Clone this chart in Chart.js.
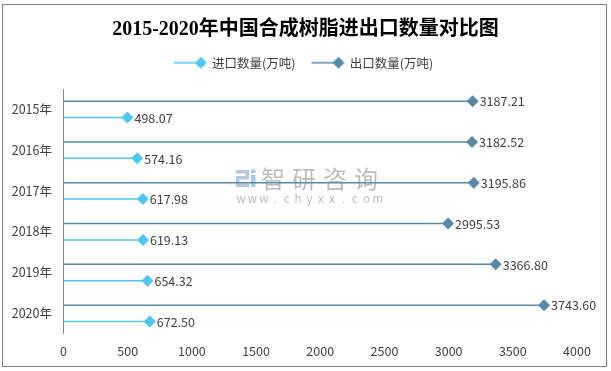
<!DOCTYPE html>
<html>
<head>
<meta charset="utf-8">
<script src="https://cdn.jsdelivr.net/npm/chart.js@4/dist/chart.umd.min.js"></script>
<style>
html,body{margin:0;padding:0;background:#fff;}
#wrap{width:611px;height:371px;position:relative;}
</style>
</head>
<body>
<div id="wrap"><canvas id="c" width="611" height="371"></canvas></div>
<script>
// ---- data ----
const categories = ['2015年', '2016年', '2017年', '2018年', '2019年', '2020年'];
const importValues = [498.07, 574.16, 617.98, 619.13, 654.32, 672.50];
const exportValues = [3187.21, 3182.52, 3195.86, 2995.53, 3366.80, 3743.60];
const xTickValues = [0, 500, 1000, 1500, 2000, 2500, 3000, 3500, 4000];
const seriesNames = ['进口数量(万吨)', '出口数量(万吨)'];
const titleText = '2015-2020年中国合成树脂进出口数量对比图';

// ---- styles ----
const IMPORT_COLOR = '#4fc7f4';
const EXPORT_COLOR = '#5889a6';
const SANS = "'Noto Sans CJK SC', 'Microsoft YaHei', sans-serif";
const TEXT_COLOR = '#404040';

function drawDiamond(ctx, x, y, r, color) {
  ctx.beginPath();
  ctx.moveTo(x - r, y);
  ctx.lineTo(x, y - r);
  ctx.lineTo(x + r, y);
  ctx.lineTo(x, y + r);
  ctx.closePath();
  ctx.fillStyle = color;
  ctx.fill();
}

function makeLegendIcon(color) {
  const cv = document.createElement('canvas');
  cv.width = 44; cv.height = 14;
  const g = cv.getContext('2d');
  g.strokeStyle = color;
  g.lineWidth = 1.5;
  g.beginPath();
  g.moveTo(4, 7);
  g.lineTo(31, 7);
  g.stroke();
  drawDiamond(g, 31, 7, 6, color);
  return cv;
}
const legendIcons = { 0: makeLegendIcon(EXPORT_COLOR), 1: makeLegendIcon(IMPORT_COLOR) };

const lollipopPlugin = {
  id: 'lollipop',
  afterDatasetsDraw(chart) {
    const ctx = chart.ctx;
    ctx.save();
    chart.data.datasets.forEach((ds, i) => {
      const meta = chart.getDatasetMeta(i);
      if (meta.hidden) return;
      meta.data.forEach((bar, j) => {
        const x = bar.x, y = bar.y;
        drawDiamond(ctx, x, y, 6, ds.borderColor);
        ctx.fillStyle = TEXT_COLOR;
        ctx.font = '12.5px ' + SANS;
        ctx.textAlign = 'left';
        ctx.textBaseline = 'middle';
        ctx.fillText(Number(ds.data[j]).toFixed(2), x + 7, y + 0.5);
      });
    });
    ctx.restore();
  }
};

const watermarkPlugin = {
  id: 'watermark',
  beforeDatasetsDraw(chart) {
    const ctx = chart.ctx;
    ctx.save();
    // logo
    ctx.fillStyle = '#b7c9e2';
    ctx.fillRect(236, 170, 13, 3.5);
    ctx.fillRect(245.5, 170, 3.5, 9);
    ctx.fillRect(236, 176, 13, 3.5);
    ctx.fillRect(236, 176, 3.5, 11);
    ctx.fillRect(236, 183.5, 13, 3.5);
    ctx.fillStyle = '#a3cbec';
    ctx.fillRect(251, 175, 4.5, 12);
    ctx.fillRect(251, 169.5, 4.5, 3.5);
    // text
    ctx.fillStyle = '#bcbcbc';
    ctx.textBaseline = 'middle';
    ctx.textAlign = 'center';
    ctx.font = '24px ' + SANS;
    const big = '智研咨询';
    for (let k = 0; k < big.length; k++) ctx.fillText(big[k], 273 + k * 31, 178.5);
    ctx.font = '11.5px ' + SANS;
    const small = 'www.chyxx.com';
    for (let k = 0; k < small.length; k++) ctx.fillText(small[k], 241 + k * 11.4, 199);
    ctx.restore();
  }
};

const frameBorder = {
  id: 'frameBorder',
  afterDraw(chart) {
    const ctx = chart.ctx;
    ctx.save();
    ctx.strokeStyle = '#808080';
    ctx.lineWidth = 1;
    ctx.strokeRect(2.5, 4.5, 604, 362);
    ctx.restore();
  }
};

new Chart(document.getElementById('c'), {
  type: 'bar',
  data: {
    labels: categories,
    datasets: [
      {
        label: seriesNames[1],
        data: exportValues,
        backgroundColor: EXPORT_COLOR,
        borderColor: EXPORT_COLOR,
        borderWidth: 0,
        maxBarThickness: 1.5,
        categoryPercentage: 0.8,
        barPercentage: 1,
        xAxisID: 'x', yAxisID: 'y'
      },
      {
        label: seriesNames[0],
        data: importValues,
        backgroundColor: IMPORT_COLOR,
        borderColor: IMPORT_COLOR,
        borderWidth: 0,
        maxBarThickness: 1.5,
        categoryPercentage: 0.8,
        barPercentage: 1,
        xAxisID: 'x', yAxisID: 'y'
      }
    ]
  },
  options: {
    indexAxis: 'y',
    responsive: false,
    animation: false,
    devicePixelRatio: 1,
    layout: { padding: { left: 0, right: 0, top: 0, bottom: 0 } },
    scales: {
      y: {
        type: 'category',
        position: 'left',
        grid: { display: false, drawTicks: false },
        border: { display: true, color: '#8c8c8c', width: 1 },
        ticks: { color: TEXT_COLOR, font: { size: 12.5, family: SANS }, padding: 11.5 },
        afterFit(s) { s.width = 63.5; }
      },
      x: {
        type: 'linear',
        position: 'bottom',
        min: 0,
        max: 4000,
        afterBuildTicks(s) { s.ticks = xTickValues.map(v => ({ value: v })); },
        grid: { display: false, drawTicks: false },
        border: { display: false },
        ticks: {
          color: TEXT_COLOR, font: { size: 12.5, family: SANS }, padding: 10, maxRotation: 0,
          callback: (v) => String(v)
        },
        afterFit(s) { s.height = 37.3; }
      },
      yRightSpacer: {
        type: 'linear', axis: 'y', position: 'right', display: true,
        grid: { display: false, drawTicks: false }, border: { display: false },
        ticks: { display: false },
        afterFit(s) { s.width = 34; }
      },
      xTopSpacer: {
        type: 'linear', axis: 'x', position: 'top', display: true,
        grid: { display: false, drawTicks: false }, border: { display: false },
        ticks: { display: false },
        afterFit(s) { s.height = 10; }
      }
    },
    plugins: {
      tooltip: { enabled: false },
      title: {
        display: true,
        text: titleText,
        color: '#000',
        font: { size: 20, weight: 'bold', family: "'Liberation Serif', 'Noto Sans CJK SC', serif" },
        padding: { top: 17.5, bottom: -5 }
      },
      legend: {
        display: true,
        position: 'top',
        labels: {
          usePointStyle: true,
          pointStyleWidth: 28,
          padding: 20,
          color: TEXT_COLOR,
          font: { size: 12.5, family: SANS },
          generateLabels(chart) {
            return [1, 0].map(i => ({
              text: chart.data.datasets[i].label,
              pointStyle: legendIcons[i],
              datasetIndex: i,
              hidden: !chart.isDatasetVisible(i),
              fontColor: TEXT_COLOR,
              fillStyle: 'transparent',
              strokeStyle: 'transparent',
              lineWidth: 0
            }));
          }
        }
      }
    }
  },
  plugins: [watermarkPlugin, lollipopPlugin, frameBorder]
});
</script>
</body>
</html>
